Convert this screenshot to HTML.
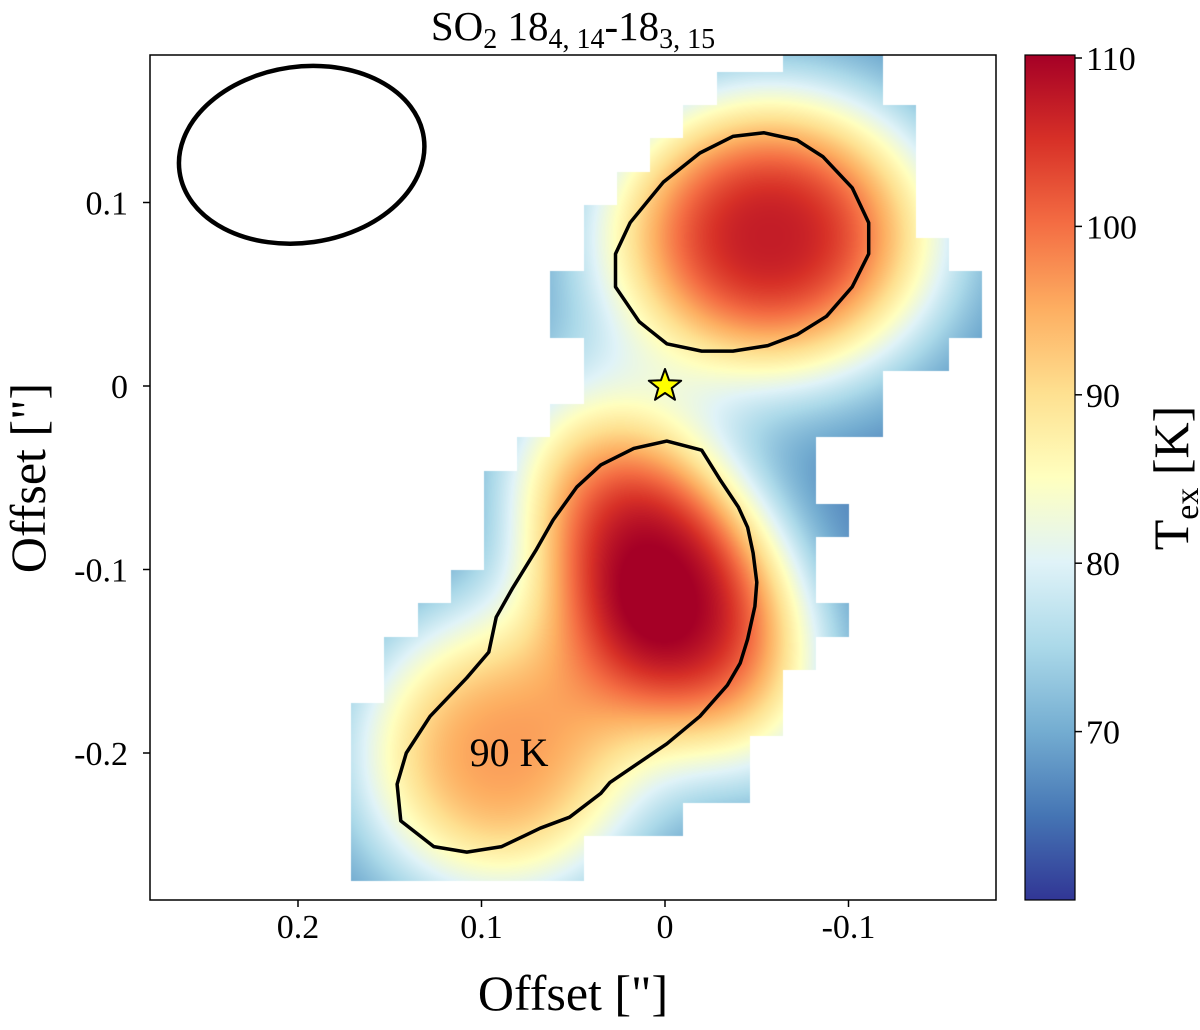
<!DOCTYPE html>
<html><head><meta charset="utf-8"><style>
body{margin:0;background:#fff;width:1200px;height:1025px;overflow:hidden;font-family:"Liberation Serif",serif}
svg text{font-family:"Liberation Serif",serif;fill:#000}
</style></head><body>
<svg id="chart" width="1200" height="1025" xmlns="http://www.w3.org/2000/svg">
<defs><clipPath id="pc"><rect x="150" y="55" width="846" height="845"/></clipPath>
<linearGradient id="cbg" x1="0" y1="1" x2="0" y2="0">
<stop offset="0" stop-color="#313695"/><stop offset="0.1" stop-color="#4575b4"/><stop offset="0.2" stop-color="#74add1"/><stop offset="0.3" stop-color="#abd9e9"/><stop offset="0.4" stop-color="#e0f3f8"/><stop offset="0.5" stop-color="#ffffbf"/><stop offset="0.6" stop-color="#fee090"/><stop offset="0.7" stop-color="#fdae61"/><stop offset="0.8" stop-color="#f46d43"/><stop offset="0.9" stop-color="#d73027"/><stop offset="1" stop-color="#a50026"/></linearGradient></defs>
<foreignObject x="150" y="55" width="846" height="845"><canvas id="cv" xmlns="http://www.w3.org/1999/xhtml" width="846" height="845"></canvas></foreignObject>
<g id="overlay" clip-path="url(#pc)"></g>
<rect x="150" y="55" width="846" height="845" fill="none" stroke="#000" stroke-width="1.5"/>
<text x="573" y="40" font-size="41" text-anchor="middle">SO<tspan font-size="28" dy="8">2</tspan><tspan dy="-8"> 18</tspan><tspan font-size="28" dy="8">4, 14</tspan><tspan dy="-8">-18</tspan><tspan font-size="28" dy="8">3, 15</tspan></text>
<g id="xticks"></g><g id="yticks"></g>
<text x="573" y="1010" font-size="50" text-anchor="middle">Offset ["]</text>
<text transform="translate(45,478) rotate(-90)" font-size="50" text-anchor="middle">Offset ["]</text>
<rect x="1025" y="55" width="50" height="845" fill="url(#cbg)" stroke="#000" stroke-width="1.2"/>
<g id="cbticks"></g>
<text transform="translate(1188,478) rotate(-90)" font-size="50" text-anchor="middle">T<tspan font-size="34" dy="10">ex</tspan><tspan dy="-10"> [K]</tspan></text>
</svg>
<script>
const xTicks=[0.2,0.1,0,-0.1];
const xTickLabels=["0.2","0.1","0","-0.1"];
const yTicks=[0.1,0,-0.1,-0.2];
const yTickLabels=["0.1","0","-0.1","-0.2"];
const cbTicks=[70,80,90,100,110];
const blobX=[-0.057,0.0,0.09];
const blobY=[0.082,-0.105,-0.2];
const blobSMaj=[0.066,0.075,0.058];
const blobSMin=[0.057,0.045,0.058];
const blobAngle=[0,-57,0];
const blobAmp=[41,44,30];
const baseT=66;
const maskRows=[[13,15],[11,15],[10,16],[9,16],[8,16],[7,16],[7,17],[6,18],[6,18],[7,17],[7,15],[6,15],[5,13],[4,13],[4,14],[4,13],[3,13],[2,14],[1,13],[1,12],[0,12],[0,11],[0,11],[0,9],[0,6],[0,6]];
const gridX0=0.171, gridY0=0.1892, cellSize=0.0181, gridBottom=-0.2698;
const contourTopX=[-0.054,-0.072,-0.086,-0.102,-0.111,-0.111,-0.102,-0.088,-0.072,-0.056,-0.037,-0.020,-0.001,0.014,0.027,0.027,0.019,0.001,-0.019,-0.037];
const contourTopY=[0.138,0.134,0.125,0.108,0.089,0.072,0.054,0.038,0.028,0.022,0.019,0.019,0.023,0.035,0.054,0.072,0.089,0.111,0.127,0.136];
const contourBotX=[-0.001,-0.020,-0.030,-0.040,-0.045,-0.048,-0.050,-0.049,-0.045,-0.041,-0.034,-0.019,-0.001,0.030,0.035,0.052,0.068,0.089,0.108,0.126,0.144,0.146,0.141,0.128,0.108,0.096,0.092,0.083,0.070,0.061,0.048,0.035,0.017];
const contourBotY=[-0.030,-0.035,-0.051,-0.066,-0.077,-0.091,-0.107,-0.120,-0.138,-0.151,-0.163,-0.180,-0.195,-0.216,-0.222,-0.235,-0.241,-0.251,-0.254,-0.251,-0.237,-0.217,-0.200,-0.180,-0.159,-0.145,-0.126,-0.110,-0.089,-0.073,-0.055,-0.043,-0.034];
const beamX=0.198, beamY=0.126, beamRx=0.0672, beamRy=0.048, beamAngle=-8;
const starX=0, starY=0;
const contourLabel="90 K", contourLabelX=0.085, contourLabelY=-0.2;

const PX=1835;
const sx=v=>665-v*PX, sy=v=>386-v*PX;
const cbY=t=>900-(t-60)*16.84;
const NS="http://www.w3.org/2000/svg";
function mk(tag,attrs,parent){const e=document.createElementNS(NS,tag);for(const k in attrs)e.setAttribute(k,attrs[k]);parent.appendChild(e);return e;}
const cmap=["#313695","#4575b4","#74add1","#abd9e9","#e0f3f8","#ffffbf","#fee090","#fdae61","#f46d43","#d73027","#a50026"].map(h=>[parseInt(h.slice(1,3),16),parseInt(h.slice(3,5),16),parseInt(h.slice(5,7),16)]);
function color(t){let f=(t-60)/50;f=Math.max(0,Math.min(1,f))*10;const i=Math.min(9,Math.floor(f)),u=f-i;return cmap[i].map((c,k)=>c+(cmap[i+1][k]-c)*u);}
function temp(x,y){let t=baseT;for(let i=0;i<blobX.length;i++){const dx=(x-blobX[i])*PX,dy=-(y-blobY[i])*PX;const a=blobAngle[i]*Math.PI/180;const u=dx*Math.cos(a)+dy*Math.sin(a),v=-dx*Math.sin(a)+dy*Math.cos(a);const r2=(u/(blobSMaj[i]*PX))**2+(v/(blobSMin[i]*PX))**2;t+=blobAmp[i]*Math.exp(-Math.pow(r2/2,1.3));}return t;}
const cv=document.getElementById('cv'),ctx=cv.getContext('2d'),img=ctx.createImageData(846,845);
for(let r=0;r<maskRows.length;r++){
 const yt=sy(gridY0-r*cellSize),yb=sy(Math.max(gridBottom,gridY0-(r+1)*cellSize));
 const xl=sx(gridX0-maskRows[r][0]*cellSize),xr=sx(gridX0-(maskRows[r][1]+1)*cellSize);
 for(let py=Math.max(55,Math.round(yt));py<Math.min(900,Math.round(yb));py++)for(let px=Math.round(xl);px<Math.min(996,Math.round(xr));px++){
  const c=color(temp((665-px)/PX,(386-py)/PX));const o=((py-55)*846+(px-150))*4;img.data[o]=c[0];img.data[o+1]=c[1];img.data[o+2]=c[2];img.data[o+3]=255;}
}
ctx.putImageData(img,0,0);
const ov=document.getElementById('overlay');
function poly(xs,ys,name){const pts=xs.map((x,i)=>sx(x).toFixed(1)+","+sy(ys[i]).toFixed(1)).join(" ");const p=mk('polygon',{points:pts,fill:'none',stroke:'#000','stroke-width':3.5,'stroke-linejoin':'round'},ov);

}
poly(contourTopX,contourTopY,'contour-90k-north');
poly(contourBotX,contourBotY,'contour-90k-south');
const bm=mk('ellipse',{cx:sx(beamX),cy:sy(beamY),rx:beamRx*PX,ry:beamRy*PX,fill:'none',stroke:'#000','stroke-width':4.5,transform:`rotate(${beamAngle} ${sx(beamX)} ${sy(beamY)})`},ov);


const lb=mk('text',{x:sx(contourLabelX),y:sy(contourLabelY)+13,'font-size':40,'text-anchor':'middle'},ov);lb.textContent=contourLabel;


let sp=[];for(let i=0;i<10;i++){const R=i%2?7:17,a=-Math.PI/2+i*Math.PI/5;sp.push((sx(starX)+R*Math.cos(a)).toFixed(1)+","+(sy(starY)+R*Math.sin(a)).toFixed(1));}
const st=mk('polygon',{points:sp.join(" "),fill:'#ffff00',stroke:'#000','stroke-width':2,'stroke-linejoin':'round'},ov);


const xg=document.getElementById('xticks');
xTicks.forEach((v,i)=>{const x=sx(v);mk('line',{x1:x,x2:x,y1:900,y2:907,stroke:'#000','stroke-width':1.5},xg);const t=mk('text',{x:x,y:938,'font-size':34,'text-anchor':'middle'},xg);t.textContent=xTickLabels[i];

});
const yg=document.getElementById('yticks');
yTicks.forEach((v,i)=>{const y=sy(v);mk('line',{x1:143,x2:150,y1:y,y2:y,stroke:'#000','stroke-width':1.5},yg);const t=mk('text',{x:128,y:y+12,'font-size':34,'text-anchor':'end'},yg);t.textContent=yTickLabels[i];

});
const cg=document.getElementById('cbticks');
cbTicks.forEach(v=>{const y=cbY(v);mk('line',{x1:1075,x2:1082,y1:y,y2:y,stroke:'#000','stroke-width':1.5},cg);const t=mk('text',{x:1086,y:y+12,'font-size':34},cg);t.textContent=String(v);

});
</script>
</body></html>
